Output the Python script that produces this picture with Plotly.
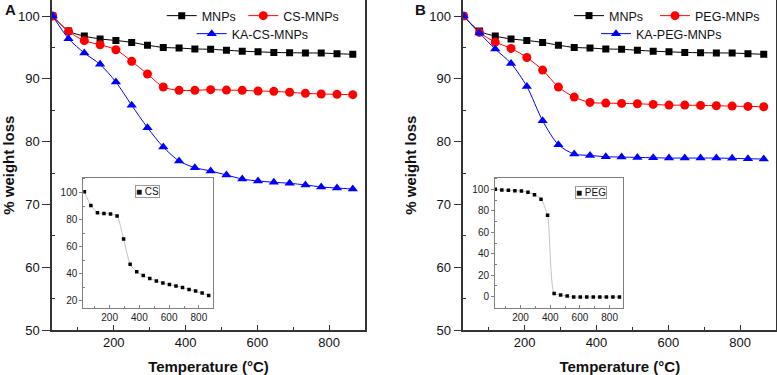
import plotly.graph_objects as go

# ---------------- data ----------------
temperature = [30, 74, 118, 162, 206, 250, 294, 338, 382, 426,
               470, 514, 558, 602, 646, 690, 734, 778, 822, 866]

mnps = [100, 97.6, 96.8, 96.35, 96.1, 95.8, 95.35, 95.0, 94.9, 94.75,
        94.7, 94.55, 94.4, 94.3, 94.2, 94.15, 94.12, 94.1, 94.0, 93.9]
cs_mnps = [100, 97.55, 96.07, 95.43, 94.63, 92.78, 90.76, 88.69, 88.16, 88.16,
           88.27, 88.2, 88.16, 88.06, 88.0, 87.85, 87.69, 87.58, 87.53, 87.47]
ka_cs_mnps = [100, 96.39, 94.11, 92.3, 89.49, 85.78, 82.22, 79.14, 76.91, 75.85,
              75.32, 74.68, 74.04, 73.73, 73.52, 73.36, 73.1, 72.77, 72.61, 72.45]
peg_mnps = [100, 97.39, 95.85, 94.84, 93.4, 91.39, 88.68, 87.09, 86.24, 86.13,
            86.08, 86.03, 85.92, 85.81, 85.81, 85.76, 85.71, 85.65, 85.6, 85.55]
ka_peg_mnps = [100, 97.28, 94.73, 92.45, 88.79, 83.32, 79.5, 78.01, 77.8, 77.59,
               77.54, 77.48, 77.43, 77.38, 77.38, 77.38, 77.38, 77.33, 77.27, 77.22]

cs = [100.5, 90.5, 85.1, 84.6, 84.2, 82.7, 65.8, 47.0, 41.6, 38.7,
      36.5, 34.8, 33.3, 32.1, 31.1, 29.9, 28.5, 27.3, 25.8, 24.1]
peg = [100, 99.3, 99.0, 98.7, 98.4, 97.2, 95.0, 90.7, 75.8, 3.1,
       1.6, 0.7, -0.3, -0.3, -0.3, -0.3, -0.3, -0.3, -0.3, -0.3]

x_ticks = [200, 400, 600, 800]
x_minor = [100, 300, 500, 700]
y_ticks = [50, 60, 70, 80, 90, 100]
y_minor = [55, 65, 75, 85, 95]
cs_y_ticks = [20, 40, 60, 80, 100]
peg_y_ticks = [0, 20, 40, 60, 80, 100]
inset_y_minor_cs = [30, 50, 70, 90, 110]
inset_y_minor_peg = [10, 30, 50, 70, 90, 110]

# ---------------- layout helpers ----------------
W, H = 777, 375
FONT = "Arial, 'Liberation Sans', sans-serif"


def fx(p):
    return p / W


def fy(p):
    return 1 - p / H


fig = go.Figure()


def main_trace(xa, ya, name, y, color, symbol, size, legend):
    fig.add_trace(go.Scatter(
        x=temperature, y=y, name=name, mode="lines+markers",
        line=dict(color=color, width=1, shape="spline", smoothing=0.8),
        marker=dict(color=color, symbol=symbol, size=size, line=dict(width=0)),
        xaxis=xa, yaxis=ya, legend=legend))


main_trace("x", "y", "MNPs", mnps, "#000000", "square", 7, "legend")
main_trace("x", "y", "CS-MNPs", cs_mnps, "#ff0000", "circle", 9, "legend2")
main_trace("x", "y", "KA-CS-MNPs", ka_cs_mnps, "#0000ff", "triangle-up", 9, "legend3")
main_trace("x2", "y2", "MNPs", mnps, "#000000", "square", 7, "legend4")
main_trace("x2", "y2", "PEG-MNPs", peg_mnps, "#ff0000", "circle", 9, "legend5")
main_trace("x2", "y2", "KA-PEG-MNPs", ka_peg_mnps, "#0000ff", "triangle-up", 9, "legend6")

for xa, ya, y, nm in (("x3", "y3", cs, "CS"), ("x4", "y4", peg, "PEG")):
    fig.add_trace(go.Scatter(
        x=temperature, y=y, name=nm, mode="lines+markers", showlegend=False,
        line=dict(color="#b4b4b4", width=0.8, shape="spline", smoothing=0.6),
        marker=dict(color="#000000", symbol="square", size=3.5, line=dict(width=0)),
        xaxis=xa, yaxis=ya))

AX = "#333333"


def main_x(domain, rng, anchor):
    return dict(domain=domain, range=rng, anchor=anchor, automargin=False,
                tickvals=x_ticks, ticks="inside", ticklen=5, tickwidth=1.2, tickcolor=AX,
                minor=dict(tickvals=x_minor, ticks="inside", ticklen=3, tickwidth=1.2,
                           tickcolor=AX, showgrid=False),
                showline=True, linecolor=AX, linewidth=1.5, mirror=True,
                showgrid=False, zeroline=False,
                tickfont=dict(size=13, color="#111", family=FONT),
                title=dict(text="<b>Temperature (°C)</b>", font=dict(size=15, color="#111", family=FONT),
                           standoff=12))


def main_y(domain, anchor):
    return dict(domain=domain, range=[50, 102.5], anchor=anchor, automargin=False,
                tickvals=y_ticks, ticks="outside", ticklen=8, tickwidth=1.2, tickcolor=AX,
                minor=dict(tickvals=y_minor, ticks="inside", ticklen=3, tickwidth=1.2,
                           tickcolor=AX, showgrid=False),
                showline=True, linecolor=AX, linewidth=1.5, mirror=True,
                showgrid=False, zeroline=False,
                tickfont=dict(size=13, color="#111", family=FONT),
                title=dict(text="<b>% weight loss</b>", font=dict(size=15, color="#111", family=FONT),
                           standoff=9))


IC = "#808080"


def inset_x(domain, rng, anchor):
    return dict(domain=domain, range=rng, anchor=anchor, automargin=False,
                tickvals=x_ticks, ticks="inside", ticklen=3, tickwidth=1, tickcolor=IC,
                minor=dict(tickvals=x_minor, ticks="inside", ticklen=2, tickwidth=1,
                           tickcolor=IC, showgrid=False),
                showline=True, linecolor=IC, linewidth=1, mirror=True,
                showgrid=False, zeroline=False,
                tickfont=dict(size=10, color="#222", family=FONT))


def inset_y(domain, rng, anchor, ticks, minor):
    return dict(domain=domain, range=rng, anchor=anchor, automargin=False,
                tickvals=ticks, ticks="outside", ticklen=3, tickwidth=1, tickcolor=IC,
                minor=dict(tickvals=minor, ticks="inside", ticklen=2, tickwidth=1,
                           tickcolor=IC, showgrid=False),
                showline=True, linecolor=IC, linewidth=1, mirror=True,
                showgrid=False, zeroline=False,
                tickfont=dict(size=10, color="#222", family=FONT))


main_ydom = [fy(330), fy(0.3)]

layout = dict(
    template="none",
    width=W, height=H,
    margin=dict(l=0, r=0, t=0, b=0),
    paper_bgcolor="white", plot_bgcolor="white",
    font=dict(family=FONT, color="#111"),
    showlegend=True,
    xaxis=main_x([fx(52), fx(365)], [28, 900], "y"),
    yaxis=main_y(main_ydom, "x"),
    xaxis2=main_x([fx(463.3), fx(776.3)], [29, 901], "y2"),
    yaxis2=main_y(main_ydom, "x2"),
    xaxis3=inset_x([fx(83.3), fx(213.3)], [23, 897], "y3"),
    yaxis3=inset_y([fy(308.3), fy(178)], [14.6, 110.7], "x3", cs_y_ticks, inset_y_minor_cs),
    xaxis4=inset_x([fx(495), fx(623.3)], [28, 892], "y4"),
    yaxis4=inset_y([fy(307.7), fy(178.3)], [-10.2, 110.2], "x4", peg_y_ticks, inset_y_minor_peg),
)


def leg(text_x, row_y):
    return dict(x=fx(text_x - 40), y=fy(row_y), xanchor="left", yanchor="middle",
                orientation="h", bgcolor="rgba(0,0,0,0)", borderwidth=0,
                itemwidth=30, font=dict(size=12.5, color="#111", family=FONT))


layout["legend"] = leg(201.7, 16)
layout["legend2"] = leg(283.3, 16)
layout["legend3"] = leg(231.7, 34)
layout["legend4"] = leg(609, 16)
layout["legend5"] = leg(695, 16)
layout["legend6"] = leg(636, 34)

fig.update_layout(**layout)

fig.add_annotation(text="<b>A</b>", xref="paper", yref="paper", x=fx(3), y=fy(10),
                   xanchor="left", yanchor="middle", showarrow=False,
                   font=dict(size=15, color="#111", family=FONT))
fig.add_annotation(text="<b>B</b>", xref="paper", yref="paper", x=fx(413), y=fy(10),
                   xanchor="left", yanchor="middle", showarrow=False,
                   font=dict(size=15, color="#111", family=FONT))
fig.add_annotation(text="■ CS", xref="paper", yref="paper", x=fx(147.5), y=fy(191),
                   xanchor="center", yanchor="middle", showarrow=False,
                   bordercolor="#999", borderwidth=1, borderpad=0, bgcolor="white",
                   font=dict(size=10, color="#111", family=FONT))
fig.add_annotation(text="■ PEG", xref="paper", yref="paper", x=fx(591), y=fy(192.5),
                   xanchor="center", yanchor="middle", showarrow=False,
                   bordercolor="#999", borderwidth=1, borderpad=0, bgcolor="white",
                   font=dict(size=10, color="#111", family=FONT))

# the page's default 8px body margin would shift the 777x375 figure out of the window
fig.write_html("out.html", config={"displayModeBar": False},
               post_script="document.body.style.margin='0px';")
